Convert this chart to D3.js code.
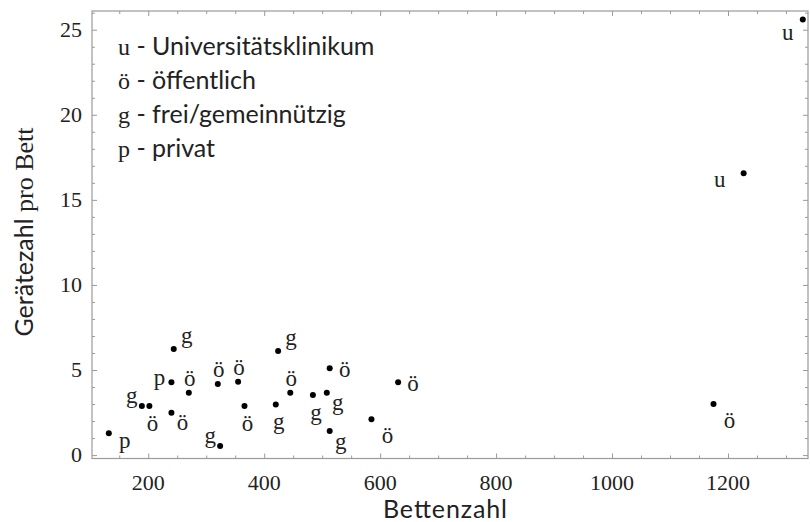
<!DOCTYPE html>
<html>
<head>
<meta charset="utf-8">
<script src="https://cdn.jsdelivr.net/npm/d3@7"></script>
<style>
  html, body { margin: 0; padding: 0; background: #fff; }
  svg { display: block; }
</style>
</head>
<body>
<svg id="chart" width="810" height="522"></svg>
<script>
// Hospitals: bed count vs. number of devices per bed, by ownership type
const beds = [132, 189, 202, 244, 240, 240, 270, 320, 324, 355, 366, 420, 424, 445, 513, 484, 508, 513, 585, 631, 1175, 1227, 1329];
const devicesPerBed = [1.28, 2.88, 2.88, 6.24, 4.28, 2.49, 3.66, 4.18, 0.53, 4.31, 2.88, 2.98, 6.12, 3.66, 5.10, 3.53, 3.66, 1.41, 2.10, 4.28, 3.00, 16.57, 25.6];
const ownership = ["p", "g", "ö", "g", "p", "ö", "ö", "ö", "g", "ö", "ö", "g", "g", "ö", "ö", "g", "g", "g", "ö", "ö", "ö", "u", "u"];
// where each point's letter sits relative to the point
const labelSide = ["ese", "nw", "s", "ne", "wnw", "se", "n", "n", "nw", "n", "s", "s", "ne", "n", "e", "s", "se", "se", "sef", "e", "sef", "w", "sw"];

const legendKeys = ["u", "ö", "g", "p"];
const legendNames = ["Universitätsklinikum", "öffentlich", "frei/gemeinnützig", "privat"];

const xMajor = [200, 400, 600, 800, 1000, 1200];
const yMajor = [0, 5, 10, 15, 20, 25];

const serif = "'Liberation Serif', 'Times New Roman', serif";
const sans = "Lato, 'Open Sans', sans-serif";

const svg = d3.select("#chart");
const frame = { left: 92, right: 808, top: 11, bottom: 458.5 };

const x = d3.scaleLinear().domain([103, 1338]).range([frame.left, frame.right]);
const y = d3.scaleLinear().domain([-0.2, 26.1]).range([frame.bottom, frame.top]);

const xMinor = d3.range(150, 1338, 50).filter(v => v % 200 !== 0);
const yMinor = d3.range(0, 26.1, 1).filter(v => v % 5 !== 0);

const frameColor = "#9a9a9a";

function styleAxis(g) {
  g.select(".domain").remove();
  g.selectAll(".tick line").attr("stroke", frameColor).attr("stroke-width", 1);
}

// tick marks on all four sides, pointing into the plot
const sides = [
  { axis: d3.axisBottom, scale: x, at: `translate(0,${frame.bottom})` },
  { axis: d3.axisTop, scale: x, at: `translate(0,${frame.top})` },
  { axis: d3.axisLeft, scale: y, at: `translate(${frame.left},0)` },
  { axis: d3.axisRight, scale: y, at: `translate(${frame.right},0)` }
];
sides.forEach(s => {
  const isX = s.scale === x;
  svg.append("g").attr("transform", s.at)
    .call(s.axis(s.scale).tickValues(isX ? xMajor : yMajor).tickSize(-5).tickFormat(""))
    .call(styleAxis);
  svg.append("g").attr("transform", s.at)
    .call(s.axis(s.scale).tickValues(isX ? xMinor : yMinor).tickSize(-3).tickFormat(""))
    .call(styleAxis);
});

// frame
svg.append("rect")
  .attr("x", frame.left).attr("y", frame.top)
  .attr("width", frame.right - frame.left).attr("height", frame.bottom - frame.top)
  .attr("fill", "none").attr("stroke", frameColor).attr("stroke-width", 1.2);

// tick labels
svg.append("g").selectAll("text").data(xMajor).join("text")
  .attr("x", d => x(d)).attr("y", frame.bottom + 31)
  .attr("text-anchor", "middle")
  .attr("font-family", serif).attr("font-size", 22).attr("fill", "#222")
  .text(d => d);

svg.append("g").selectAll("text").data(yMajor).join("text")
  .attr("x", frame.left - 10).attr("y", d => y(d) + 7)
  .attr("text-anchor", "end")
  .attr("font-family", serif).attr("font-size", 22).attr("fill", "#222")
  .text(d => d);

// axis titles
svg.append("text")
  .attr("x", 445).attr("y", 518)
  .attr("text-anchor", "middle")
  .attr("font-family", sans).attr("font-size", 25).attr("fill", "#222")
  .attr("textLength", 124).attr("lengthAdjust", "spacing")
  .text("Bettenzahl");

const yTitle = svg.append("text")
  .attr("transform", "translate(33,232) rotate(-90)")
  .attr("text-anchor", "middle")
  .attr("fill", "#222");
yTitle.append("tspan").attr("font-family", sans).attr("font-size", 25).text("Gerätezahl ");
yTitle.append("tspan").attr("font-family", serif).attr("font-size", 26).text("pro Bett");

// legend
const legend = svg.append("g");
legendKeys.forEach((k, i) => {
  const t = legend.append("text")
    .attr("x", 118).attr("y", 55 + i * 34)
    .attr("fill", "#222");
  t.append("tspan").attr("font-family", serif).attr("font-size", 24).text(k);
  t.append("tspan").attr("font-family", sans).attr("font-size", 25).text(" - " + legendNames[i]);
});

// label offsets (glyph centre relative to the point)
const offsets = {
  n: [1, -14], s: [3, 17], e: [15, 1], w: [-24, 6],
  ne: [13, -13], nw: [-10, -11], se: [11, 10], sw: [-15, 13],
  ese: [16, 7], wnw: [-12, -5], sef: [16, 16]
};

const points = beds.map((b, i) => ({ b, v: devicesPerBed[i], k: ownership[i], side: labelSide[i] }));

svg.append("g").selectAll("circle").data(points).join("circle")
  .attr("cx", d => x(d.b)).attr("cy", d => y(d.v))
  .attr("r", 3).attr("fill", "#000");

svg.append("g").selectAll("text").data(points).join("text")
  .attr("x", d => x(d.b) + offsets[d.side][0])
  .attr("y", d => y(d.v) + offsets[d.side][1])
  .attr("text-anchor", "middle")
  .attr("dominant-baseline", "central")
  .attr("font-family", serif).attr("font-size", 23).attr("fill", "#222")
  .text(d => d.k);
</script>
</body>
</html>
